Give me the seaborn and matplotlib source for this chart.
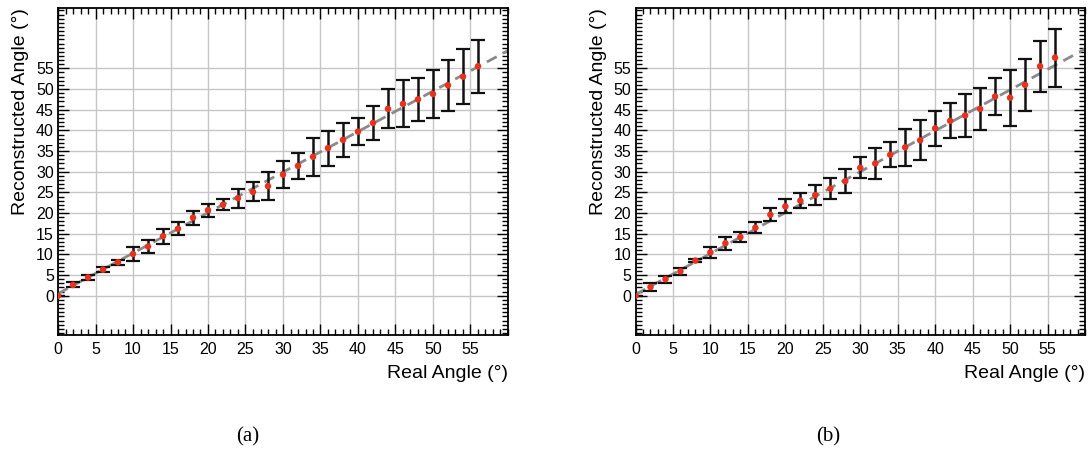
import numpy as np
import pandas as pd
import matplotlib
matplotlib.use("Agg")
import matplotlib.pyplot as plt
import seaborn as sns
from matplotlib.ticker import MultipleLocator, FixedLocator

# ---------------- data ----------------
real_angle = [0, 2, 4, 6, 8, 10, 12, 14, 16, 18, 20, 22, 24, 26, 28,
              30, 32, 34, 36, 38, 40, 42, 44, 46, 48, 50, 52, 54, 56]

reco_a = [0.0, 2.6, 4.4, 6.3, 8.1, 10.1, 11.9, 14.4, 16.2, 18.9, 20.7, 22.0, 23.6, 25.1, 26.5,
          29.3, 31.4, 33.6, 35.7, 37.7, 39.7, 41.8, 45.2, 46.4, 47.5, 48.8, 50.9, 53.0, 55.5]
err_a = [0.0, 0.6, 0.5, 0.6, 0.6, 1.6, 1.6, 1.8, 1.6, 1.7, 1.6, 1.3, 2.3, 2.3, 3.4,
         3.3, 3.2, 4.6, 4.2, 4.2, 3.3, 4.1, 4.7, 5.7, 5.2, 5.8, 6.2, 6.6, 6.4]

reco_b = [0.0, 2.1, 4.0, 5.9, 8.5, 10.5, 12.7, 14.2, 16.45, 19.6, 21.6, 23.0, 24.35, 25.9, 27.7,
          30.95, 32.0, 34.1, 35.9, 37.6, 40.5, 42.3, 43.6, 45.2, 48.2, 47.9, 51.0, 55.5, 57.6]
err_b = [0.0, 1.0, 0.85, 0.9, 0.3, 1.4, 1.6, 1.3, 1.3, 1.6, 1.7, 1.85, 2.5, 2.6, 2.9,
         2.5, 3.7, 3.0, 4.55, 4.8, 4.3, 4.2, 5.2, 5.0, 4.5, 6.8, 6.2, 6.2, 7.0]

# linear fit parameters: [intercept, slope]
fit_a = [0.5, 0.98]
fit_b = [0.3, 0.99]

x_ticks = [0, 5, 10, 15, 20, 25, 30, 35, 40, 45, 50, 55]
y_ticks = [0, 5, 10, 15, 20, 25, 30, 35, 40, 45, 50, 55]
panel_labels = ["(a)", "(b)"]
x_title = "Real Angle (°)"
y_title = "Reconstructed Angle (°)"

# ---------------- style ----------------
sns.set_theme(style="white")
plt.rcParams['font.family'] = ['Liberation Sans', 'DejaVu Sans']
plt.rcParams['text.color'] = 'black'
plt.rcParams['axes.labelcolor'] = 'black'
plt.rcParams['xtick.color'] = 'black'
plt.rcParams['ytick.color'] = 'black'

fig = plt.figure(figsize=(10.92, 4.54), dpi=100)
W, H = 1092, 454
axes_px = [(58, 8, 508, 335), (635.5, 8, 1085, 335)]
axs = []
for (x0, y0, x1, y1) in axes_px:
    axs.append(fig.add_axes([x0 / W, 1 - y1 / H, (x1 - x0) / W, (y1 - y0) / H]))

panels = [(reco_a, err_a, fit_a), (reco_b, err_b, fit_b)]
for ax, (reco, err, fit), lab in zip(axs, panels, panel_labels):
    ax.set_xlim(0, 60)
    ax.set_ylim(-9.5, 69.6)
    # grid
    for xv in x_ticks[1:]:
        ax.axvline(xv, color="#c6c6c6", lw=1.0, zorder=0)
    for yv in y_ticks:
        ax.axhline(yv, color="#c6c6c6", lw=1.0, zorder=0)

    df = pd.DataFrame({"real": real_angle, "reco": reco, "err": err})
    # fit line
    fx = np.array([0, 60])
    fdf = pd.DataFrame({"x": fx, "y": fit[0] + fit[1] * fx})
    sns.lineplot(data=fdf, x="x", y="y", ax=ax, color="#8a8a8a", lw=2.0,
                 linestyle=(0, (4, 2.5)), zorder=2)
    ax.errorbar(df["real"], df["reco"], yerr=df["err"], fmt="none",
                ecolor="#111111", elinewidth=1.8, capsize=5, capthick=1.6, zorder=3)
    sns.scatterplot(data=df, x="real", y="reco", ax=ax, color="#e8321e",
                    s=22, edgecolor="none", zorder=4)

    ax.xaxis.set_major_locator(FixedLocator(x_ticks))
    ax.xaxis.set_minor_locator(MultipleLocator(1))
    ax.yaxis.set_major_locator(FixedLocator(y_ticks))
    ax.yaxis.set_minor_locator(MultipleLocator(1))
    ax.tick_params(which="both", direction="in", top=True, right=True,
                   bottom=True, left=True, color="black", labelcolor="black",
                   labelsize=11.5)
    ax.tick_params(which="major", length=8, width=1.0)
    ax.tick_params(which="minor", length=4, width=1.0)
    ax.tick_params(axis="x", pad=5)
    ax.tick_params(axis="y", pad=3)
    for sp in ax.spines.values():
        sp.set_color("black")
        sp.set_linewidth(1.3)
    ax.set_xlabel(x_title, fontsize=14, loc="right", labelpad=6, color="black")
    ax.set_ylabel(y_title, fontsize=14, loc="top", labelpad=5, color="black")

fig.text(248 / W, 1 - 437 / H, panel_labels[0], ha="center", va="center",
         fontsize=15, family="Liberation Serif", color="black")
fig.text(828 / W, 1 - 437 / H, panel_labels[1], ha="center", va="center",
         fontsize=15, family="Liberation Serif", color="black")

fig.savefig("out.png", dpi=100, facecolor="white")
